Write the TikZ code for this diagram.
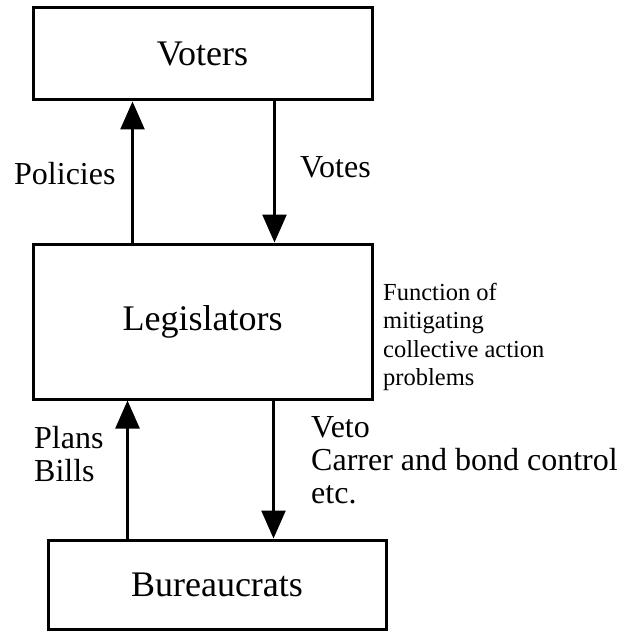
\documentclass[tikz,border=0pt]{standalone}
\usepackage{fontspec}
\setmainfont{Liberation Serif}
\usetikzlibrary{arrows.meta}

\tikzset{
  actor/.style={draw, line width=3pt, inner sep=0pt, font=\fontsize{36}{42}\selectfont},
  flow/.style={line width=2.5pt, -{Triangle[length=28pt,width=24pt]}},
  sidetext/.style={anchor=base west, inner sep=0pt, font=\fontsize{32}{36}\selectfont},
  notetext/.style={anchor=base west, inner sep=0pt, font=\fontsize{24.5}{29}\selectfont}
}

\begin{document}
\begin{tikzpicture}[x=1pt, y=-1pt]
  \useasboundingbox (0,0) rectangle (625,631);

  % the three actors
  \node[actor, minimum width=339pt, minimum height=92pt]  (voters)      at (202.5,54)    {Voters};
  \node[actor, minimum width=339pt, minimum height=155pt] (legislators) at (202.5,321.5) {Legislators};
  \node[actor, minimum width=338pt, minimum height=89pt]  (bureaucrats) at (217,584.5)   {Bureaucrats};

  % flows between voters and legislators
  \draw[flow] ([xshift=101pt]legislators.north west) -- ([xshift=101pt]voters.south west);
  \draw[flow] ([xshift=243pt]voters.south west) -- ([xshift=243pt]legislators.north west);

  % flows between legislators and bureaucrats
  \draw[flow] ([xshift=81pt]bureaucrats.north west) -- ([xshift=96pt]legislators.south west);
  \draw[flow] ([xshift=242pt]legislators.south west) -- ([xshift=227pt]bureaucrats.north west);

  % flow labels
  \node[sidetext] (policies) at (14,185) {Policies};
  \node[sidetext] (votes)    at (300,178) {Votes};

  \node[sidetext] (plans) at (34,448) {Plans};
  \node[sidetext] (bills) at (34,481) {Bills};

  \node[sidetext] (veto)   at (311,437) {Veto};
  \node[sidetext] (carrer) at (311,470) {Carrer and bond control};
  \node[sidetext] (etc)    at (311,503) {etc.};

  % note on the legislators' role
  \node[notetext] (fn1) at (383,300) {Function of};
  \node[notetext] (fn2) at (383,328) {mitigating};
  \node[notetext] (fn3) at (383,357) {collective action};
  \node[notetext] (fn4) at (383,385) {problems};
\end{tikzpicture}
\end{document}
